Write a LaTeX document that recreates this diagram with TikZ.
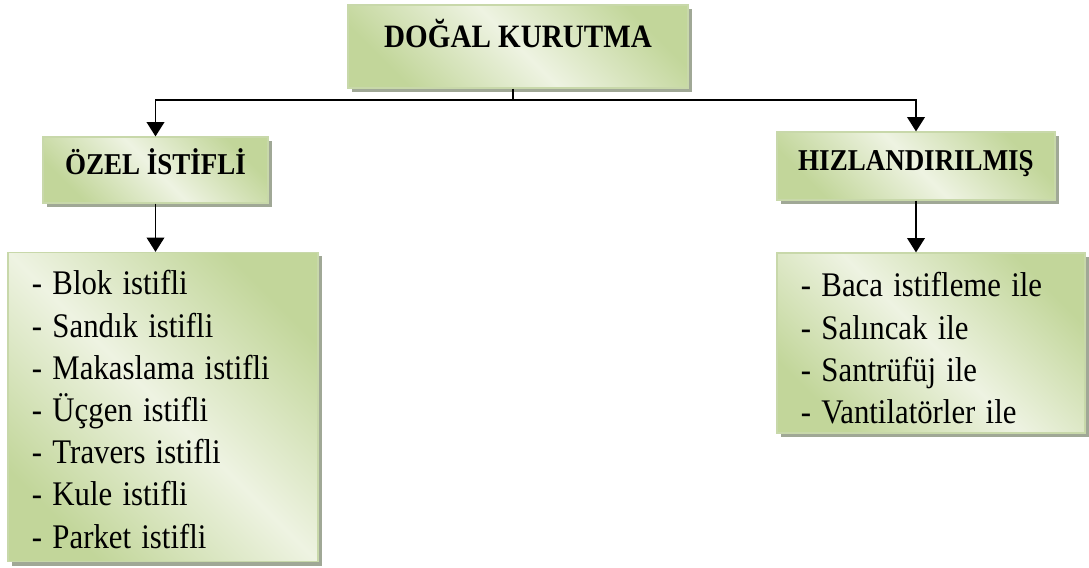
\documentclass[tikz,border=0pt]{standalone}
\usepackage{fontspec}
\usepackage{graphicx}
\setmainfont{Liberation Serif}
\usetikzlibrary{arrows.meta,positioning,shadows}
\definecolor{boxdark}{RGB}{194,214,154}
\definecolor{boxlight}{RGB}{238,243,226}
\definecolor{boxline}{RGB}{200,216,170}
\definecolor{boxshadow}{RGB}{160,168,150}
\pgfdeclarehorizontalshading{boxshade}{100bp}{color(0bp)=(boxdark); color(25bp)=(boxdark); color(50bp)=(boxlight); color(75bp)=(boxdark); color(100bp)=(boxdark)}
\newcommand{\uzun}[1]{\scalebox{1}[1.12]{#1}}
% #1: how far the lines sit below the middle of the box
\newcommand{\liste}[2][0cm]{\raisebox{0pt}[\height][\dimexpr\depth-#1*2\relax]{\uzun{\begin{tabular}{@{}l@{}}#2\end{tabular}}}}
\tikzset{
  greenbox/.style={draw=boxline, line width=0.8pt, shading=boxshade, shading angle=45,
    drop shadow={shadow xshift=0.1cm, shadow yshift=-0.1cm, fill=boxshadow, opacity=1}},
  headbox/.style={greenbox, align=center, text height=14pt, text depth=7pt, font=\fontsize{19.2}{23}\selectfont\bfseries},
  listbox/.style={greenbox, align=left, inner xsep=0.55cm, inner ysep=0pt, font=\fontsize{21.9}{26.8}\selectfont},
  link/.style={line width=1.4pt, -{Triangle[length=0.36cm,width=0.44cm]}}
}
\begin{document}
\begin{tikzpicture}[x=0.025cm, y=-0.025cm]
  \useasboundingbox (0,0) rectangle (1089,567);
  \node[headbox, minimum width=8.5cm, minimum height=2.075cm, text depth=12.6pt, font=\fontsize{20.7}{25}\selectfont\bfseries] (kurutma) at (518,46.5) {\uzun{DOĞAL KURUTMA}};
  \node[headbox, minimum width=5.625cm, minimum height=1.65cm] (ozel) at (155.5,170) {\uzun{ÖZEL İSTİFLİ}};
  \node[headbox, minimum width=6.95cm, minimum height=1.7cm] (hizli) at (916,166) {\uzun{HIZLANDIRILMIŞ}};
  \node[listbox, minimum width=7.75cm, minimum height=7.725cm, text width=6.55cm] (ozelliste) at (163,407) {\liste[0.15cm]{- Blok istifli\\- Sandık istifli\\- Makaslama istifli\\- Üçgen istifli\\- Travers istifli\\- Kule istifli\\- Parket istifli}};
  \node[listbox, minimum width=7.7cm, minimum height=4.5cm, text width=6.5cm] (hizliliste) at (931,343) {\liste[0.22cm]{- Baca istifleme ile\\- Salıncak ile\\- Santrüfüj ile\\- Vantilatörler ile}};
  \coordinate (ayrim) at (513,100);
  \draw[line width=1.4pt] (kurutma.south -| ayrim) -- (ayrim);
  \draw[link] (ayrim) -| (ozel.north);
  \draw[link] (ayrim) -| (hizli.north);
  \draw[link] (ozel.south) -- (ozel.south |- ozelliste.north);
  \draw[link] (hizli.south) -- (hizli.south |- hizliliste.north);
\end{tikzpicture}
\end{document}
